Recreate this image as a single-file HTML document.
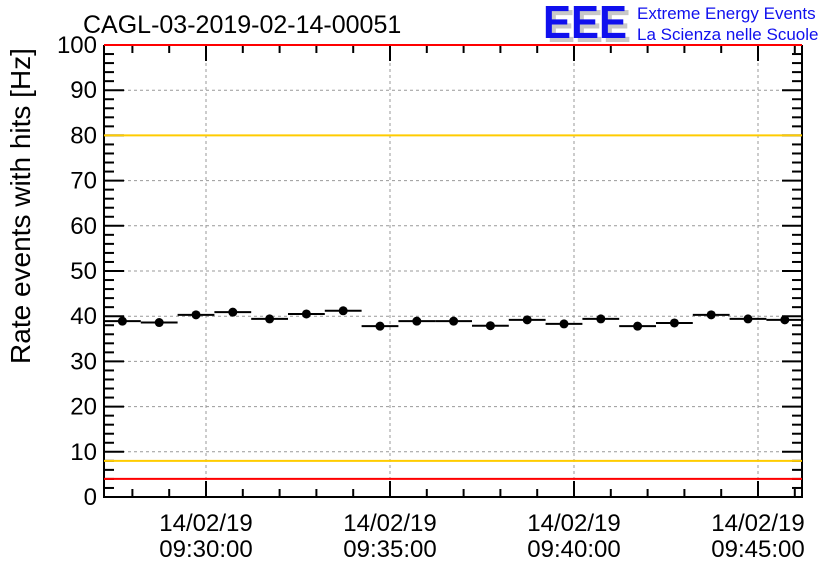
<!DOCTYPE html>
<html><head><meta charset="utf-8"><style>
body{margin:0;background:#fff}
svg{display:block;font-family:"Liberation Sans",sans-serif}
</style></head><body>
<svg id="chart" width="836" height="572" viewBox="0 0 836 572">
<text x="83" y="33" font-size="25">CAGL-03-2019-02-14-00051</text>
<g>
<text x="547" y="42" font-size="46" font-weight="bold" fill="#c8c8c8" textLength="84" lengthAdjust="spacingAndGlyphs">EEE</text>
<text x="543" y="38" font-size="46" font-weight="bold" fill="#1010ee" textLength="84" lengthAdjust="spacingAndGlyphs">EEE</text>
<text x="637" y="19" font-size="17" fill="#1010ee">Extreme Energy Events</text>
<text x="637" y="40" font-size="17" fill="#1010ee">La Scienza nelle Scuole</text>
</g>
<text transform="translate(30,206) rotate(-90)" text-anchor="middle" font-size="28">Rate events with hits [Hz]</text>
<g id="grid"></g><g id="axes"></g><g id="marks"></g>
</svg>
<script>
const values=[38.9,38.6,40.3,40.9,39.4,40.5,41.2,37.8,38.9,38.9,37.9,39.2,38.3,39.4,37.8,38.5,40.3,39.4,39.2];
const yTicks=[0,10,20,30,40,50,60,70,80,90,100];
const xTickMinutes=[0,5,10,15];
const xTickDates=["14/02/19","14/02/19","14/02/19","14/02/19"];
const xTickTimes=["09:30:00","09:35:00","09:40:00","09:45:00"];
const redLines=[100,4];
const orangeLines=[80,8];
const L=104,R=802,T=45,B=497;
const xMin=-102/36.8, binW=1;
const xs=m=>L+(m-xMin)*36.8;
const ys=v=>B-(v/100)*(B-T);
const NS="http://www.w3.org/2000/svg";
function mk(p,tag,a){const e=document.createElementNS(NS,tag);for(const k in a)e.setAttribute(k,a[k]);p.appendChild(e);return e;}
const grid=document.getElementById('grid'),axes=document.getElementById('axes'),marks=document.getElementById('marks');
yTicks.forEach(v=>{if(v>0&&v<100){const l=mk(grid,'line',{x1:L,x2:R,y1:ys(v),y2:ys(v),stroke:'#999','stroke-dasharray':'3,3','stroke-width':1});

}});
xTickMinutes.forEach(m=>{const l=mk(grid,'line',{x1:xs(m),x2:xs(m),y1:T,y2:B,stroke:'#999','stroke-dasharray':'3,3','stroke-width':1});

});
const ax=mk(axes,'path',{d:`M${L},${T}V${B}H${R}V${T}`,fill:'none',stroke:'#000','stroke-width':2});


for(let v=0;v<=100;v+=2){const maj=v%10===0;const len=maj?20:10;
mk(axes,'line',{x1:L,x2:L+len,y1:ys(v),y2:ys(v),stroke:'#000','stroke-width':2});
mk(axes,'line',{x1:R,x2:R-len,y1:ys(v),y2:ys(v),stroke:'#000','stroke-width':2});}
yTicks.forEach(v=>{const t=mk(axes,'text',{x:L-7,y:ys(v)+8,'text-anchor':'end','font-size':24});t.textContent=v;

});
for(let m=-2;m<=16;m++){const x=xs(m);if(x<L||x>R)continue;const maj=m%5===0;const len=maj?16:8;
mk(axes,'line',{x1:x,x2:x,y1:B,y2:B-len,stroke:'#000','stroke-width':2});
mk(axes,'line',{x1:x,x2:x,y1:T,y2:T+len,stroke:'#000','stroke-width':2});}
orangeLines.forEach(v=>{const l=mk(axes,'line',{x1:L,x2:R,y1:ys(v),y2:ys(v),stroke:'#ffcc00','stroke-width':2});

});
redLines.forEach(v=>{const l=mk(axes,'line',{x1:L,x2:R,y1:ys(v),y2:ys(v),stroke:'#ff0000','stroke-width':2});

});
xTickMinutes.forEach((m,i)=>{const t1=mk(axes,'text',{x:xs(m),y:531,'text-anchor':'middle','font-size':24});t1.textContent=xTickDates[i];


const t2=mk(axes,'text',{x:xs(m),y:557,'text-anchor':'middle','font-size':24});t2.textContent=xTickTimes[i];

});
values.forEach((v,i)=>{const x0=xs(xMin+i*binW),x1=xs(xMin+(i+1)*binW),y=ys(v);
const g=mk(marks,'g',{});


mk(g,'line',{x1:x0,x2:x1,y1:y,y2:y,stroke:'#000','stroke-width':2});
mk(g,'circle',{cx:(x0+x1)/2,cy:y,r:4.5,fill:'#000'});});
</script>
</body></html>
